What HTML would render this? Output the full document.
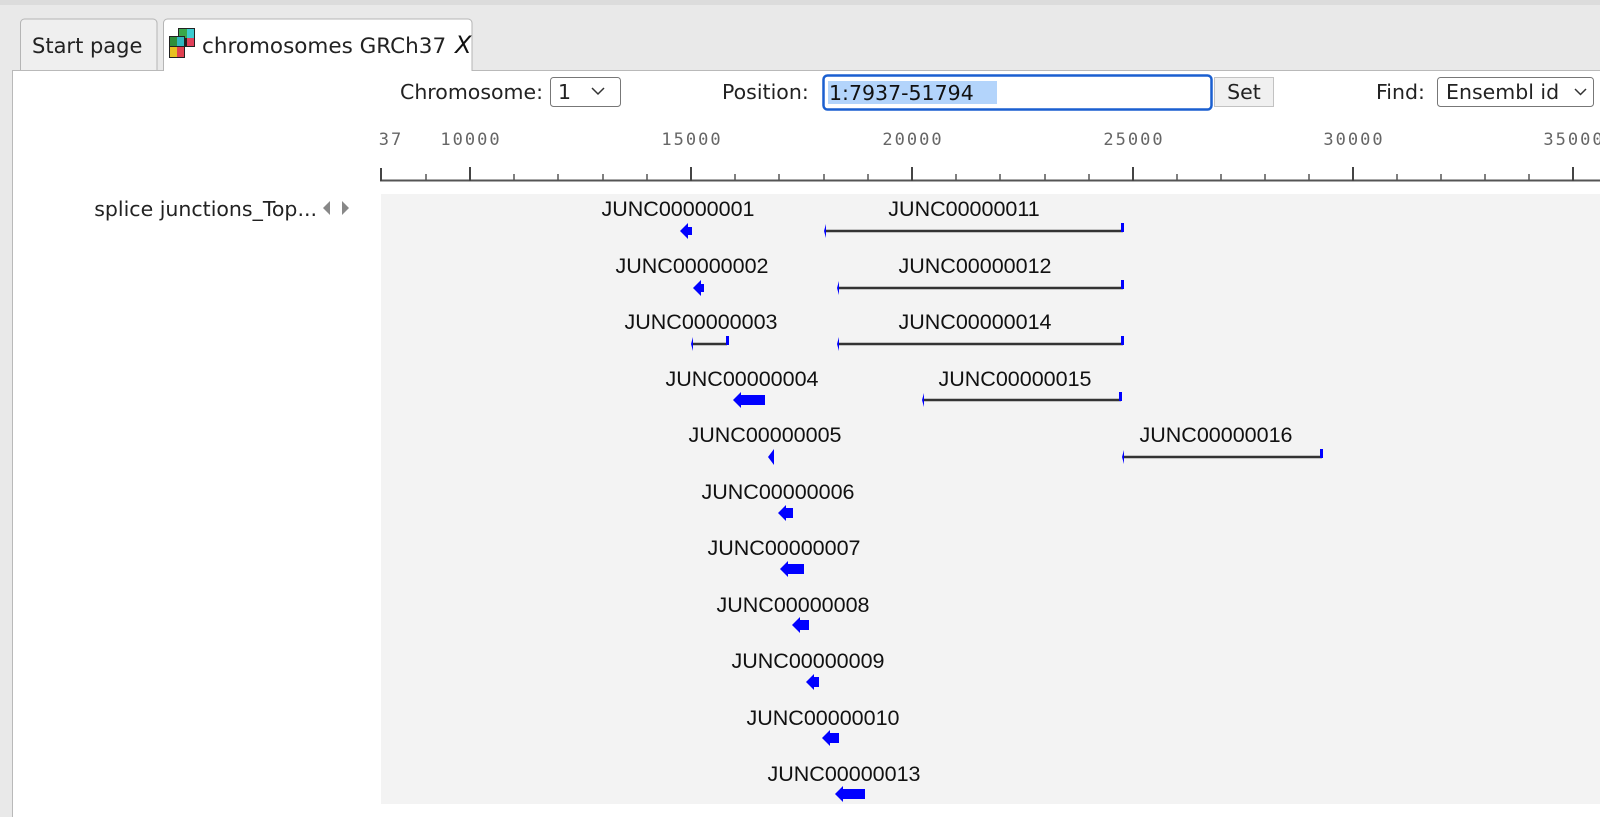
<!DOCTYPE html>
<html><head><meta charset="utf-8"><style>
html,body{margin:0;padding:0;width:1600px;height:817px;overflow:hidden;background:#e9e9e9;}
svg{display:block}
.ui{font-family:"DejaVu Sans","Liberation Sans",sans-serif;font-size:20.5px;fill:#222}
.lab{font-family:"Liberation Sans",Arial,sans-serif;font-size:21.5px;fill:#111;text-anchor:middle}
.rl{font-family:"DejaVu Sans Mono","Liberation Mono",monospace;font-size:17px;letter-spacing:2px;fill:#666;text-anchor:middle}
</style></head><body>
<svg width="1600" height="817" xmlns="http://www.w3.org/2000/svg">
<rect x="0" y="0" width="1600" height="817" fill="#e9e9e9"/>
<rect x="0" y="0" width="1600" height="5" fill="#dcdcdc"/>
<rect x="12.5" y="70.5" width="1600" height="760" fill="#fff" stroke="#b9b9b9"/>
<path d="M20.5 70 V23 a4 4 0 0 1 4 -4 H153 a4 4 0 0 1 4 4 V70" fill="#efefef" stroke="#b5b5b5"/>
<text x="32" y="53" class="ui" style="font-size:21px">Start page</text>
<path d="M163.5 71 V23 a4 4 0 0 1 4 -4 H468 a4 4 0 0 1 4 4 V71" fill="#fff" stroke="#b5b5b5"/>
<g>
<rect x="178" y="28" width="17" height="19" fill="#222"/>
<rect x="179" y="29" width="8" height="9" fill="#3aa84a"/><rect x="187" y="29" width="7" height="9" fill="#3ccbd0"/>
<rect x="187" y="38" width="7" height="8" fill="#e0405a"/>
<rect x="169" y="36" width="16" height="22" fill="#222"/>
<rect x="170" y="37" width="7" height="9" fill="#2f8f3a"/><rect x="177" y="37" width="7" height="9" fill="#30b8c0"/>
<rect x="170" y="47" width="7" height="10" fill="#e8c020"/><rect x="177" y="47" width="7" height="10" fill="#e04050"/>
</g>
<text x="202" y="53" class="ui" style="font-size:21.5px">chromosomes GRCh37</text>
<text x="455" y="53" style="font-family:'DejaVu Sans',sans-serif;font-style:italic;font-size:24px;fill:#111">X</text>
<text x="400" y="99" class="ui">Chromosome:</text>
<rect x="550.5" y="77.5" width="70" height="29" rx="3" fill="#fff" stroke="#777"/>
<text x="558" y="99" class="ui">1</text>
<path d="M592 88 l6 6 l6 -6" fill="none" stroke="#333" stroke-width="1.5"/>
<text x="722" y="99" class="ui">Position:</text>
<rect x="823.5" y="75.5" width="388" height="34" rx="4" fill="#fff" stroke="#1a5fd0" stroke-width="2.5"/>
<rect x="828" y="81" width="169" height="23" fill="#b3d4fb"/>
<text x="829" y="100" class="ui" style="fill:#111">1:7937-51794</text>
<rect x="1214.5" y="77.5" width="59" height="29" fill="#f0f0f0" stroke="#c2c2c2"/>
<text x="1244" y="99" class="ui" style="text-anchor:middle">Set</text>
<text x="1376" y="99" class="ui">Find:</text>
<rect x="1437.5" y="77.5" width="156" height="29" rx="3" fill="#fff" stroke="#777"/>
<text x="1446" y="99" class="ui">Ensembl id</text>
<path d="M1575 89 l5.5 5.5 l5.5 -5.5" fill="none" stroke="#333" stroke-width="1.5"/>
<text x="391" y="145" class="rl">37</text>
<text x="471" y="145" class="rl">10000</text>
<text x="692" y="145" class="rl">15000</text>
<text x="913" y="145" class="rl">20000</text>
<text x="1134" y="145" class="rl">25000</text>
<text x="1354" y="145" class="rl">30000</text>
<text x="1574" y="145" class="rl">35000</text>
<line x1="380" y1="180.5" x2="1600" y2="180.5" stroke="#555" stroke-width="2"/>
<g stroke="#444" stroke-width="2">
<line x1="381" y1="168" x2="381" y2="181"/>
<line x1="470" y1="167" x2="470" y2="181"/><line x1="691" y1="167" x2="691" y2="181"/><line x1="912" y1="167" x2="912" y2="181"/><line x1="1133" y1="167" x2="1133" y2="181"/><line x1="1353" y1="167" x2="1353" y2="181"/><line x1="1573" y1="167" x2="1573" y2="181"/>
</g>
<g stroke="#555" stroke-width="1.5">
<line x1="426" y1="174" x2="426" y2="181"/>
<line x1="514" y1="174" x2="514" y2="181"/><line x1="558" y1="174" x2="558" y2="181"/><line x1="603" y1="174" x2="603" y2="181"/><line x1="647" y1="174" x2="647" y2="181"/>
<line x1="735" y1="174" x2="735" y2="181"/><line x1="779" y1="174" x2="779" y2="181"/><line x1="824" y1="174" x2="824" y2="181"/><line x1="868" y1="174" x2="868" y2="181"/>
<line x1="956" y1="174" x2="956" y2="181"/><line x1="1000" y1="174" x2="1000" y2="181"/><line x1="1045" y1="174" x2="1045" y2="181"/><line x1="1089" y1="174" x2="1089" y2="181"/>
<line x1="1177" y1="174" x2="1177" y2="181"/><line x1="1221" y1="174" x2="1221" y2="181"/><line x1="1265" y1="174" x2="1265" y2="181"/><line x1="1309" y1="174" x2="1309" y2="181"/>
<line x1="1397" y1="174" x2="1397" y2="181"/><line x1="1441" y1="174" x2="1441" y2="181"/><line x1="1485" y1="174" x2="1485" y2="181"/><line x1="1529" y1="174" x2="1529" y2="181"/>
</g>
<rect x="381" y="194" width="1219" height="610" fill="#f3f3f3"/>
<text x="317" y="216" class="ui" style="text-anchor:end">splice junctions_Top...</text>
<path d="M330 201 l-7 7 l7 7z" fill="#888"/><path d="M342 201 l7 7 l-7 7z" fill="#888"/>
<g class="lab">
<text x="678" y="216">JUNC00000001</text>
<text x="964" y="216">JUNC00000011</text>
<text x="692" y="273">JUNC00000002</text>
<text x="975" y="273">JUNC00000012</text>
<text x="701" y="329">JUNC00000003</text>
<text x="975" y="329">JUNC00000014</text>
<text x="742" y="386">JUNC00000004</text>
<text x="1015" y="386">JUNC00000015</text>
<text x="765" y="442">JUNC00000005</text>
<text x="1216" y="442">JUNC00000016</text>
<text x="778" y="499">JUNC00000006</text>
<text x="784" y="555">JUNC00000007</text>
<text x="793" y="612">JUNC00000008</text>
<text x="808" y="668">JUNC00000009</text>
<text x="823" y="725">JUNC00000010</text>
<text x="844" y="781">JUNC00000013</text>
</g>
<g stroke="#333" stroke-width="2.5">
<line x1="825" y1="231" x2="1123" y2="231"/>
<line x1="838" y1="288" x2="1123" y2="288"/>
<line x1="692" y1="344" x2="727" y2="344"/>
<line x1="838" y1="344" x2="1123" y2="344"/>
<line x1="923" y1="400" x2="1121" y2="400"/>
<line x1="1123" y1="457" x2="1322" y2="457"/>
</g>
<g fill="#00f">
<path d="M826 224 l-2 7 l2 7z"/><rect x="1121" y="223" width="3" height="9"/>
<path d="M839 281 l-2 7 l2 7z"/><rect x="1121" y="280" width="3" height="9"/>
<path d="M693 337 l-2 7 l2 7z"/><rect x="726" y="336" width="3" height="9"/>
<path d="M839 337 l-2 7 l2 7z"/><rect x="1121" y="336" width="3" height="9"/>
<path d="M924 393 l-2 7 l2 7z"/><rect x="1119" y="392" width="3" height="9"/>
<path d="M1124 450 l-2 7 l2 7z"/><rect x="1320" y="449" width="3" height="9"/>
<path d="M680 231 l8 -8 v4 h4 v8 h-4 v4z"/>
<path d="M693 288 l8 -8 v4 h3 v8 h-3 v4z"/>
<path d="M733 400 l8 -8 v3 h24 v10 h-24 v3z"/>
<path d="M768 457 l6 -8 v16z"/>
<path d="M778 513 l8 -8 v3 h7 v10 h-7 v3z"/>
<path d="M780 569 l8 -8 v3 h16 v10 h-16 v3z"/>
<path d="M792 625 l8 -8 v3 h9 v10 h-9 v3z"/>
<path d="M806 682 l8 -8 v3 h5 v10 h-5 v3z"/>
<path d="M822 738 l8 -8 v3 h9 v10 h-9 v3z"/>
<path d="M835 794 l8 -8 v3 h22 v10 h-22 v3z"/>
</g>
</svg>
</body></html>
